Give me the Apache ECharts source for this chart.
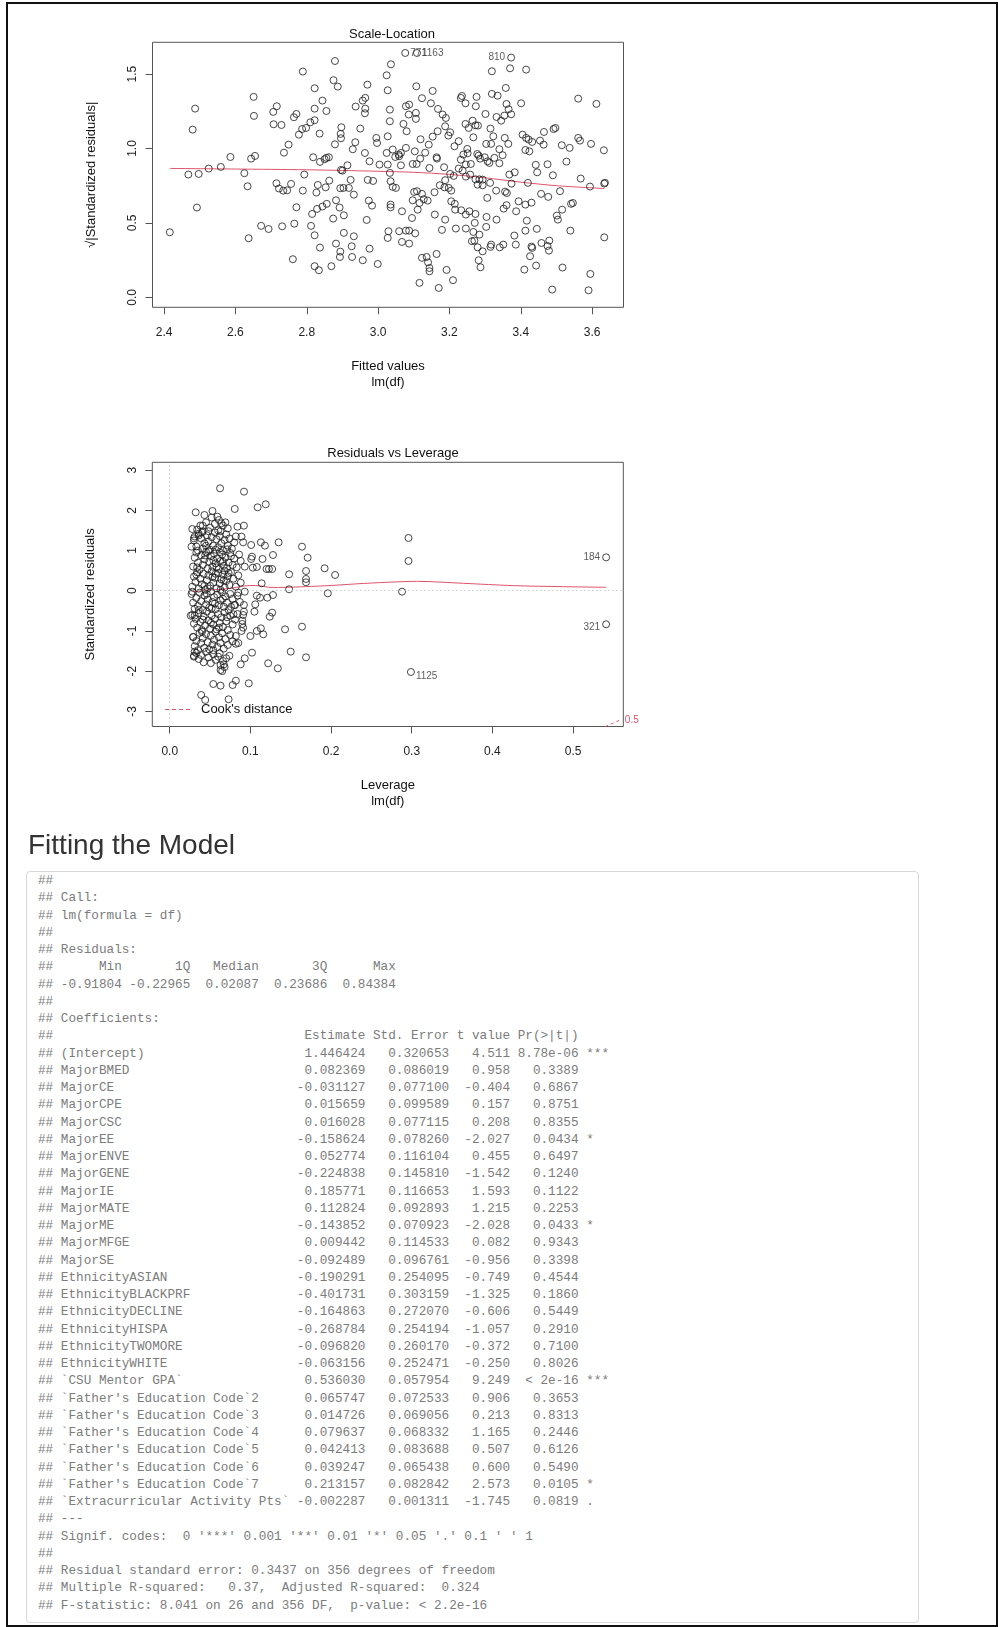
<!DOCTYPE html>
<html>
<head>
<meta charset="utf-8">
<script src="https://cdn.jsdelivr.net/npm/echarts@6/dist/echarts.min.js"></script>
<style>
  html, body { margin: 0; padding: 0; background: #fff; }
  body { width: 998px; height: 1627px; position: relative; overflow: hidden; }
  #chart { position: absolute; left: 0; top: 0; width: 998px; height: 830px; }
  #frame { position: absolute; left: 6px; top: 2px; width: 992px; height: 1625px; box-sizing: border-box; border: 2px solid #111; pointer-events: none; }
  #heading { position: absolute; left: 28px; top: 831px; margin: 0; font: 400 28px/28px "Liberation Sans", Arial, sans-serif; color: #333; }
  #code { position: absolute; left: 26px; top: 871px; width: 893px; height: 752px; box-sizing: border-box; margin: 0;
          border: 1px solid #d8d8d8; border-radius: 4px; background: #fff; padding: 0 0 0 11px;
          font: 12.7px/17.25px "Liberation Mono", "Courier New", monospace; color: #7c7c7c; white-space: pre; overflow: hidden; }
</style>
</head>
<body>
<div id="chart"></div>
<h2 id="heading">Fitting the Model</h2>
<pre id="code"></pre>
<div id="frame"></div>
<script>
// ---------------- Scale-Location data ----------------
const slTicksX = [2.4, 2.6, 2.8, 3.0, 3.2, 3.4, 3.6];
const slTicksY = [0.0, 0.5, 1.0, 1.5];
const slPoints = [
[2.416,0.437],[2.487,1.268],[2.480,1.127],[2.468,0.825],[2.497,0.829],[2.525,0.865],[2.559,0.876],[2.492,0.603],[2.586,0.943],[2.651,1.347],
[2.652,1.219],[2.644,0.932],[2.655,0.950],[2.625,0.834],[2.634,0.746],[2.637,0.397],[2.672,0.480],[2.693,0.459],[2.731,0.477],[2.706,1.246],
[2.716,1.284],[2.707,1.163],[2.729,1.158],[2.764,1.210],[2.771,1.232],[2.749,1.026],[2.736,0.972],[2.715,0.766],[2.722,0.731],[2.734,0.717],
[2.745,0.719],[2.756,0.762],[2.771,0.605],[2.765,0.495],[2.761,0.256],[2.789,1.517],[2.822,1.405],[2.822,1.268],[2.844,1.322],[2.855,1.252],
[2.778,1.093],[2.787,1.131],[2.798,1.138],[2.810,1.176],[2.822,1.190],[2.836,1.100],[2.818,0.941],[2.837,0.910],[2.850,0.928],[2.855,0.937],
[2.862,0.941],[2.793,0.825],[2.789,0.717],[2.831,0.755],[2.827,0.704],[2.863,0.784],[2.853,0.739],[2.815,0.560],[2.829,0.594],[2.844,0.610],
[2.856,0.628],[2.812,0.480],[2.822,0.417],[2.837,0.334],[2.822,0.209],[2.834,0.182],[2.869,0.209],[2.879,1.588],[2.875,1.459],[2.887,1.416],
[2.897,1.143],[2.895,1.098],[2.896,1.069],[2.879,1.028],[2.896,0.856],[2.900,0.851],[2.914,0.887],[2.894,0.733],[2.903,0.735],[2.918,0.735],
[2.882,0.652],[2.892,0.603],[2.904,0.551],[2.874,0.529],[2.904,0.433],[2.882,0.361],[2.894,0.307],[2.893,0.271],[2.926,0.343],[2.927,0.271],
[2.932,0.410],[2.957,0.249],[2.976,0.327],[2.999,0.224],[2.970,1.429],[2.957,1.322],[2.964,1.340],[2.964,1.268],[2.963,1.237],[2.937,1.282],
[2.950,1.134],[2.936,1.042],[2.929,0.995],[2.963,0.970],[2.976,0.914],[2.923,0.789],[2.932,0.690],[2.971,0.789],[2.986,0.782],[2.974,0.650],
[2.983,0.616],[2.968,0.520],[3.004,0.892],[2.995,1.071],[2.997,1.037],
[3.370,1.539],[3.319,1.519],[3.415,1.530],[3.036,1.566],[3.024,1.492],[3.027,1.391],[3.033,1.261],[3.033,1.183],[3.027,1.082],[3.024,0.970],
[3.027,0.892],[3.033,0.836],[3.035,0.780],[3.041,0.742],[3.050,0.735],[3.035,0.623],[3.035,0.605],[3.029,0.444],[3.027,0.399],[3.041,0.993],
[3.048,0.943],[3.058,0.959],[3.064,0.887],[3.071,1.165],[3.080,1.116],[3.078,1.284],[3.087,1.295],[3.086,1.228],[3.106,1.239],[3.106,1.199],
[3.107,1.418],[3.123,1.338],[3.148,1.304],[3.153,1.387],[3.168,1.266],[3.181,1.228],[3.190,1.205],[3.167,1.116],[3.153,1.080],[3.142,1.026],
[3.132,0.972],[3.119,1.062],[3.103,0.981],[3.078,1.004],[3.064,0.970],[3.059,0.948],[3.097,0.896],[3.108,0.896],[3.118,0.932],[3.144,0.869],
[3.164,0.941],[3.165,0.932],[3.185,0.874],[3.188,1.149],[3.202,1.109],[3.197,1.087],[3.214,1.015],[3.226,1.049],[3.232,0.925],[3.226,0.865],
[3.246,0.892],[3.251,0.968],[3.260,0.896],[3.250,0.997],[3.267,1.075],[3.273,1.156],[3.245,1.165],[3.254,1.138],[3.265,1.187],[3.280,1.154],
[3.235,1.353],[3.232,1.340],[3.245,1.304],[3.276,1.347],[3.274,1.284],[3.301,1.232],[3.319,1.367],[3.335,1.355],[3.358,1.407],[3.360,1.299],
[3.366,1.264],[3.373,1.230],[3.354,1.221],[3.345,1.187],[3.332,1.212],[3.315,1.134],[3.323,1.082],[3.303,1.031],[3.317,1.031],[3.340,0.995],
[3.355,1.071],[3.365,1.031],[3.349,0.955],[3.340,0.901],[3.326,0.937],[3.307,0.914],[3.299,0.941],[3.282,0.952],[3.278,0.963],[3.286,0.932],
[3.312,0.903],[3.401,1.304],[3.405,1.093],[3.415,1.071],[3.422,1.060],[3.432,1.044],[3.413,0.990],[3.424,0.981],[3.454,1.053],[3.465,1.111],
[3.464,1.026],[3.492,1.131],[3.497,1.138],[3.515,1.022],[3.537,1.004],[3.561,1.335],[3.612,1.300],[3.561,1.071],[3.566,1.053],[3.597,1.031],
[3.633,0.988],[3.528,0.912],[3.475,0.894],[3.442,0.890],[3.446,0.840],[3.490,0.820],[3.420,0.769],[3.383,0.840],[3.368,0.825],[3.374,0.764],
[3.356,0.710],[3.361,0.701],[3.331,0.717],[3.314,0.769],[3.293,0.791],[3.284,0.793],[3.273,0.793],[3.258,0.825],[3.246,0.811],[3.237,0.851],
[3.212,0.816],[3.202,0.829],[3.188,0.787],[3.173,0.753],[3.186,0.739],[3.198,0.735],[3.205,0.717],[3.158,0.706],[3.139,0.650],[3.123,0.695],
[3.116,0.634],[3.128,0.659],[3.109,0.713],[3.101,0.708],[3.097,0.652],[3.067,0.578],[3.095,0.533],[3.111,0.589],[3.159,0.556],[3.188,0.522],
[3.205,0.645],[3.215,0.628],[3.216,0.589],[3.233,0.585],[3.246,0.556],[3.256,0.578],[3.273,0.560],[3.271,0.500],[3.279,0.757],[3.293,0.753],
[3.306,0.668],[3.304,0.540],[3.303,0.473],[3.332,0.522],[3.352,0.596],[3.360,0.619],[3.387,0.578],[3.394,0.645],[3.413,0.623],[3.430,0.636],
[3.457,0.695],[3.477,0.675],[3.510,0.713],[3.541,0.628],[3.546,0.634],[3.516,0.589],[3.501,0.549],[3.504,0.522],[3.417,0.515],[3.413,0.448],
[3.445,0.460],[3.382,0.415],[3.386,0.354],[3.430,0.341],[3.432,0.332],[3.426,0.276],[3.458,0.365],[3.480,0.381],[3.475,0.345],[3.479,0.314],
[3.443,0.213],[3.410,0.186],[3.517,0.200],[3.539,0.448],[3.568,0.798],[3.594,0.744],[3.634,0.764],[3.636,0.770],[3.634,0.403],[3.595,0.157],
[3.590,0.047],[3.488,0.052],[3.351,0.354],[3.341,0.336],[3.317,0.354],[3.315,0.339],[3.284,0.421],[3.267,0.439],[3.270,0.381],[3.263,0.377],
[3.279,0.336],[3.293,0.309],[3.282,0.249],[3.287,0.202],[3.246,0.462],[3.218,0.462],[3.179,0.453],[3.104,0.430],[3.087,0.448],[3.078,0.448],
[3.059,0.444],[3.067,0.372],[3.087,0.361],[3.123,0.265],[3.136,0.271],[3.140,0.235],[3.144,0.197],[3.144,0.175],[3.164,0.291],[3.192,0.184],
[3.210,0.115],[3.170,0.063],[3.116,0.097],[3.239,0.959]
];
const slIdFitted = [3.076, 3.109, 3.373];
const slIdValue  = [1.642, 1.642, 1.611];
const slIdNames  = ['771', '1163', '810'];
const slIdSide   = ['right', 'right', 'left'];
const slSmooth = [[2.416,0.866],[2.6,0.862],[2.8,0.857],[3.0,0.847],[3.1,0.840],[3.2,0.826],[3.3,0.803],[3.4,0.774],[3.5,0.750],[3.634,0.731]];

// ---------------- Residuals vs Leverage data ----------------
const rlTicksX = [0.0, 0.1, 0.2, 0.3, 0.4, 0.5];
const rlTicksY = [-3, -2, -1, 0, 1, 2, 3];
const rlPoints = [
[0.0624,2.547],[0.0921,2.464],[0.0806,2.033],[0.109,2.074],[0.119,2.149],[0.0322,1.950],[0.043,1.883],[0.053,1.983],[0.059,1.842],[0.061,1.759],
[0.064,1.676],[0.084,1.593],[0.092,1.618],[0.089,1.345],[0.091,1.204],[0.101,1.137],[0.113,1.204],[0.118,1.121],[0.135,1.204],[0.164,1.096],
[0.171,0.822],[0.128,0.888],[0.115,0.789],[0.102,0.847],[0.101,0.789],[0.093,0.598],[0.103,0.573],[0.108,0.590],[0.120,0.540],[0.123,0.540],
[0.127,0.540],[0.148,0.408],[0.169,0.490],[0.169,0.292],[0.169,0.209],[0.192,0.557],[0.205,0.391],[0.148,0.035],[0.196,-0.065],[0.114,0.184],
[0.093,-0.024],[0.085,-0.049],[0.108,-0.123],[0.112,-0.173],[0.121,-0.173],[0.128,-0.107],[0.106,-0.339],[0.105,-0.522],[0.092,-0.355],[0.092,-0.522],
[0.091,-0.604],[0.090,-0.745],[0.090,-0.828],[0.091,-0.919],[0.089,-1.002],[0.079,-0.587],[0.080,-0.355],[0.127,-0.546],[0.124,-0.646],[0.113,-0.936],
[0.116,-1.085],[0.108,-1.002],[0.100,-1.127],[0.143,-0.961],[0.164,-0.894],[0.150,-1.516],[0.169,-1.657],[0.134,-1.931],[0.122,-1.806],[0.102,-1.541],
[0.093,-1.682],[0.088,-1.831],[0.085,-1.301],[0.082,-1.127],[0.098,-2.304],[0.082,-2.238],[0.078,-2.346],[0.063,-2.362],[0.054,-2.321],[0.039,-2.594],
[0.044,-2.718],[0.073,-2.702],[0.063,-1.972],[0.067,-1.831],[0.030,-1.641],[0.031,-1.516],[0.029,-1.152],[0.026,-0.621],[0.028,-0.024],[0.027,1.096],
[0.030,1.303],[0.028,1.535],[0.036,1.378],[0.041,1.618],[0.296,1.311],[0.296,0.739],[0.288,-0.024],
[0.034,1.52],[0.038,1.62],[0.045,1.70],[0.050,1.57],[0.056,1.66],[0.060,1.50],[0.066,1.62],[0.072,1.55],[0.040,1.45],[0.048,1.48],[0.069,1.70],[0.031,1.35],[0.052,1.82],
[0.030,1.25],[0.033,1.10],[0.036,1.42],[0.039,1.30],[0.041,1.05],[0.043,1.18],[0.046,1.38],[0.048,1.22],[0.050,1.02],[0.052,1.33],[0.054,1.12],[0.056,1.45],[0.058,1.28],
[0.060,1.08],[0.062,1.36],[0.064,1.18],[0.066,1.00],[0.068,1.26],[0.070,1.40],[0.072,1.12],[0.074,1.30],[0.077,1.05],[0.080,1.20],[0.082,1.35],[0.035,1.00],[0.045,1.12],
[0.057,1.02],[0.063,1.48],[0.071,1.03],[0.041,1.48],
[0.029,0.60],[0.031,0.82],[0.033,0.95],[0.035,0.70],[0.037,0.52],[0.039,0.88],[0.041,0.64],[0.043,0.78],[0.045,0.96],[0.047,0.55],[0.049,0.72],[0.051,0.86],[0.053,0.60],
[0.055,0.92],[0.057,0.68],[0.059,0.80],[0.061,0.54],[0.063,0.74],[0.065,0.90],[0.067,0.62],[0.069,0.82],[0.071,0.56],[0.073,0.70],[0.075,0.94],[0.078,0.64],[0.080,0.80],
[0.083,0.58],[0.086,0.90],[0.088,0.74],[0.034,0.58],[0.044,0.88],[0.054,0.76],[0.062,0.96],[0.068,0.50],[0.076,0.86],[0.058,0.58],[0.048,0.98],[0.066,0.72],
[0.028,0.10],[0.030,0.35],[0.032,0.22],[0.034,0.46],[0.036,0.05],[0.038,0.30],[0.040,0.16],[0.042,0.42],[0.044,0.02],[0.046,0.26],[0.048,0.38],[0.050,0.12],[0.052,0.48],
[0.054,0.20],[0.056,0.32],[0.058,0.06],[0.060,0.44],[0.062,0.18],[0.064,0.28],[0.066,0.40],[0.068,0.08],[0.070,0.24],[0.072,0.36],[0.074,0.14],[0.076,0.46],[0.079,0.30],
[0.082,0.10],[0.085,0.38],[0.088,0.20],[0.033,0.40],[0.043,0.12],[0.053,0.34],[0.063,0.02],[0.073,0.44],[0.047,0.06],[0.057,0.42],[0.067,0.26],
[0.027,-0.08],[0.029,-0.30],[0.031,-0.45],[0.033,-0.18],[0.035,-0.38],[0.037,-0.05],[0.039,-0.26],[0.041,-0.48],[0.043,-0.12],[0.045,-0.34],[0.047,-0.22],[0.049,-0.42],
[0.051,-0.02],[0.053,-0.28],[0.055,-0.16],[0.057,-0.46],[0.059,-0.10],[0.061,-0.36],[0.063,-0.24],[0.065,-0.04],[0.067,-0.40],[0.069,-0.14],[0.071,-0.30],[0.073,-0.48],
[0.075,-0.08],[0.078,-0.20],[0.081,-0.36],[0.084,-0.12],[0.087,-0.28],[0.036,-0.48],[0.046,-0.08],[0.056,-0.32],[0.066,-0.20],[0.076,-0.40],[0.052,-0.44],
[0.028,-0.60],[0.030,-0.82],[0.032,-0.70],[0.034,-0.92],[0.036,-0.56],[0.038,-0.78],[0.040,-0.98],[0.042,-0.64],[0.044,-0.86],[0.046,-0.52],[0.048,-0.74],[0.050,-0.94],
[0.052,-0.62],[0.054,-0.84],[0.056,-0.70],[0.058,-0.96],[0.060,-0.58],[0.062,-0.80],[0.064,-0.66],[0.066,-0.90],[0.068,-0.54],[0.070,-0.76],[0.072,-0.98],[0.075,-0.62],
[0.078,-0.84],[0.081,-0.72],[0.084,-0.58],[0.031,-0.62],[0.041,-0.72],[0.051,-0.80],[0.061,-0.92],[0.071,-0.66],
[0.029,-1.15],[0.031,-1.38],[0.033,-1.25],[0.035,-1.48],[0.037,-1.05],[0.039,-1.30],[0.041,-1.18],[0.043,-1.42],[0.045,-1.08],[0.047,-1.28],[0.049,-1.46],[0.051,-1.12],
[0.053,-1.34],[0.055,-1.22],[0.057,-1.02],[0.059,-1.40],[0.061,-1.16],[0.063,-1.30],[0.065,-1.06],[0.067,-1.44],[0.069,-1.20],[0.072,-1.35],[0.075,-1.10],[0.078,-1.26],
[0.082,-1.32],[0.040,-1.02],[0.054,-1.48],
[0.030,-1.62],[0.033,-1.55],[0.036,-1.70],[0.039,-1.60],[0.042,-1.78],[0.045,-1.52],[0.048,-1.66],[0.051,-1.80],[0.054,-1.58],[0.057,-1.72],[0.060,-1.64],[0.063,-1.85],
[0.066,-1.75],[0.065,-2.00],[0.062,-1.56],[0.070,-1.68],[0.074,-1.62],[0.068,-1.90]
];
const rlIdLeverage = [0.541, 0.541, 0.299];
const rlIdResidual = [0.830, -0.836, -2.022];
const rlIdNames    = ['184', '321', '1125'];
const rlIdSide     = ['left', 'left', 'right'];
const rlSmooth = [[0.027,-0.02],[0.052,0.02],[0.077,0.06],[0.093,0.12],[0.106,0.13],[0.127,0.08],[0.143,0.085],[0.168,0.10],[0.200,0.13],[0.240,0.18],[0.282,0.22],[0.306,0.233],[0.364,0.184],[0.426,0.126],[0.488,0.10],[0.541,0.085]];
const cookHalf = [[0.540,-3.38],[0.549,-3.30],[0.558,-3.22]];

// ---------------- model summary text ----------------
const coefNames = ['(Intercept)','MajorBMED','MajorCE','MajorCPE','MajorCSC','MajorEE','MajorENVE','MajorGENE','MajorIE','MajorMATE','MajorME','MajorMFGE','MajorSE',
  'EthnicityASIAN','EthnicityBLACKPRF','EthnicityDECLINE','EthnicityHISPA','EthnicityTWOMORE','EthnicityWHITE','`CSU Mentor GPA`',
  "`Father's Education Code`2","`Father's Education Code`3","`Father's Education Code`4","`Father's Education Code`5","`Father's Education Code`6","`Father's Education Code`7",
  '`Extracurricular Activity Pts`'];
const coefEstimate = ['1.446424','0.082369','-0.031127','0.015659','0.016028','-0.158624','0.052774','-0.224838','0.185771','0.112824','-0.143852','0.009442','-0.092489',
  '-0.190291','-0.401731','-0.164863','-0.268784','-0.096820','-0.063156','0.536030','0.065747','0.014726','0.079637','0.042413','0.039247','0.213157','-0.002287'];
const coefStdErr = ['0.320653','0.086019','0.077100','0.099589','0.077115','0.078260','0.116104','0.145810','0.116653','0.092893','0.070923','0.114533','0.096761',
  '0.254095','0.303159','0.272070','0.254194','0.260170','0.252471','0.057954','0.072533','0.069056','0.068332','0.083688','0.065438','0.082842','0.001311'];
const coefT = ['4.511','0.958','-0.404','0.157','0.208','-2.027','0.455','-1.542','1.593','1.215','-2.028','0.082','-0.956',
  '-0.749','-1.325','-0.606','-1.057','-0.372','-0.250','9.249','0.906','0.213','1.165','0.507','0.600','2.573','-1.745'];
const coefP = ['8.78e-06','0.3389','0.6867','0.8751','0.8355','0.0434','0.6497','0.1240','0.1122','0.2253','0.0433','0.9343','0.3398',
  '0.4544','0.1860','0.5449','0.2910','0.7100','0.8026','< 2e-16','0.3653','0.8313','0.2446','0.6126','0.5490','0.0105','0.0819'];
const coefStars = ['***','','','','','*','','','','','*','','','','','','','','','***','','','','','','*','.'];

const lines = [
  '##', '## Call:', '## lm(formula = df)', '##', '## Residuals:',
  '##      Min       1Q   Median       3Q      Max',
  '## -0.91804 -0.22965  0.02087  0.23686  0.84384',
  '##', '## Coefficients:',
  '## ' + ''.padEnd(30) + ' ' + 'Estimate'.padStart(9) + ' ' + 'Std. Error'.padStart(10) + ' ' + 't value'.padStart(7) + ' ' + 'Pr(>|t|)'.padStart(8)
];
coefNames.forEach((n, i) => {
  lines.push('## ' + n.padEnd(30) + ' ' + coefEstimate[i].padStart(9) + ' ' + coefStdErr[i].padStart(10) + ' ' +
             coefT[i].padStart(7) + ' ' + coefP[i].padStart(8) + ' ' + coefStars[i]);
});
lines.push('## ---');
lines.push("## Signif. codes:  0 '***' 0.001 '**' 0.01 '*' 0.05 '.' 0.1 ' ' 1");
lines.push('##');
lines.push('## Residual standard error: 0.3437 on 356 degrees of freedom');
lines.push('## Multiple R-squared:   0.37,  Adjusted R-squared:  0.324');
lines.push('## F-statistic: 8.041 on 26 and 356 DF,  p-value: < 2.2e-16');
document.getElementById('code').textContent = lines.join('\n');

// ---------------- chart ----------------
const FONT = '"Liberation Sans", Arial, sans-serif';
const POINT_STYLE = { color: 'rgba(0,0,0,0)', borderColor: '#1a1a1a', borderWidth: 1 };
const RED = '#df536b';

function idData(xs, ys, names, sides) {
  return xs.map((x, i) => ({
    value: [x, ys[i]], name: names[i],
    label: { show: true, position: sides[i], distance: sides[i] === 'left' ? 2 : 1, formatter: names[i],
             fontSize: 10, color: '#333', fontFamily: FONT,
             offset: names[i] === '321' ? [0, 3] : (names[i] === '1125' ? [0, 4] : [0, 0]) }
  }));
}

function xAxisCfg(gridIndex, min, max, ticks, name, fmt) {
  return {
    type: 'value', gridIndex, min, max, position: 'bottom',
    axisLine: { show: false, onZero: false },
    splitLine: { show: false },
    axisTick: { show: true, inside: false, length: 7, lineStyle: { color: '#555', width: 1 }, customValues: ticks },
    axisLabel: { show: true, customValues: ticks, formatter: fmt, margin: 19, fontSize: 12, color: '#222', fontFamily: FONT },
    name, nameLocation: 'middle', nameGap: 51,
    nameTextStyle: { fontSize: 13, lineHeight: 16, color: '#111', fontFamily: FONT }
  };
}
function yAxisCfg(gridIndex, min, max, ticks, name, fmt) {
  return {
    type: 'value', gridIndex, min, max, position: 'left',
    axisLine: { show: false, onZero: false },
    splitLine: { show: false },
    axisTick: { show: true, inside: false, length: 7, lineStyle: { color: '#555', width: 1 }, customValues: ticks },
    axisLabel: { show: true, customValues: ticks, formatter: fmt, rotate: 90, margin: 14, fontSize: 12, color: '#222', fontFamily: FONT },
    name, nameLocation: 'middle', nameGap: 55, nameRotate: 90,
    nameTextStyle: { fontSize: 13, color: '#111', fontFamily: FONT }
  };
}

const cookIcon = 'path://M0,0h4v1h-4z M7,0h4v1h-4z M14,0h4v1h-4z M21,0h4v1h-4z';

const chart = echarts.init(document.getElementById('chart'), null, { renderer: 'canvas' });
chart.setOption({
  animation: false,
  backgroundColor: 'rgba(0,0,0,0)',
  title: [
    { text: 'Scale-Location', left: 387, top: 23, textAlign: 'center',
      textStyle: { fontSize: 13, fontWeight: 'normal', color: '#111', fontFamily: FONT } },
    { text: 'Residuals vs Leverage', left: 388, top: 442, textAlign: 'center',
      textStyle: { fontSize: 13, fontWeight: 'normal', color: '#111', fontFamily: FONT } }
  ],
  legend: {
    left: 165, top: 703, padding: 0, itemWidth: 25, itemHeight: 1.2,
    data: [{ name: "Cook's distance", icon: cookIcon, itemStyle: { color: RED } }],
    textStyle: { fontSize: 13, color: '#111', fontFamily: FONT, padding: [0, 0, 0, 6] }
  },
  grid: [
    { left: 152.5, top: 42.3, width: 471, height: 265, show: true, borderColor: '#555', borderWidth: 1, backgroundColor: 'rgba(0,0,0,0)' },
    { left: 152.3, top: 462.3, width: 471, height: 264.2, show: true, borderColor: '#555', borderWidth: 1, backgroundColor: 'rgba(0,0,0,0)' }
  ],
  xAxis: [
    xAxisCfg(0, 2.3675, 3.688, slTicksX, 'Fitted values\nlm(df)', v => v.toFixed(1)),
    xAxisCfg(1, -0.0216, 0.5623, rlTicksX, 'Leverage\nlm(df)', v => v.toFixed(1))
  ],
  yAxis: [
    yAxisCfg(0, -0.0672, 1.7137, slTicksY, '√|Standardized residuals|', v => v.toFixed(1)),
    yAxisCfg(1, -3.378, 3.194, rlTicksY, 'Standardized residuals', v => String(Math.round(v)))
  ],
  series: [
    { type: 'scatter', xAxisIndex: 0, yAxisIndex: 0, symbol: 'circle', symbolSize: 7, itemStyle: POINT_STYLE, data: slPoints, silent: true },
    { type: 'scatter', xAxisIndex: 0, yAxisIndex: 0, symbol: 'circle', symbolSize: 7, itemStyle: POINT_STYLE,
      data: idData(slIdFitted, slIdValue, slIdNames, slIdSide), silent: true, z: 3 },
    { type: 'line', xAxisIndex: 0, yAxisIndex: 0, data: slSmooth, smooth: 0.3, symbol: 'none',
      lineStyle: { color: RED, width: 1 }, silent: true, z: 1 },

    { type: 'scatter', xAxisIndex: 1, yAxisIndex: 1, symbol: 'circle', symbolSize: 7, itemStyle: POINT_STYLE, data: rlPoints, silent: true,
      markLine: { silent: true, symbol: ['none', 'none'], label: { show: false },
                  lineStyle: { type: [1, 3], color: '#b5b5b5', width: 1 },
                  data: [{ yAxis: 0 }, { xAxis: 0 }] } },
    { type: 'scatter', xAxisIndex: 1, yAxisIndex: 1, symbol: 'circle', symbolSize: 7, itemStyle: POINT_STYLE,
      data: idData(rlIdLeverage, rlIdResidual, rlIdNames, rlIdSide), silent: true, z: 3 },
    { type: 'line', xAxisIndex: 1, yAxisIndex: 1, data: rlSmooth, smooth: 0.3, symbol: 'none',
      lineStyle: { color: RED, width: 1 }, silent: true, z: 1 },
    { type: 'line', name: "Cook's distance", xAxisIndex: 1, yAxisIndex: 1, data: cookHalf, smooth: true, symbol: 'none', clip: false,
      lineStyle: { color: RED, width: 1, type: [3, 3] }, itemStyle: { color: RED }, silent: true,
      endLabel: { show: true, formatter: '0.5', color: RED, fontSize: 10, fontFamily: FONT, distance: 5 } }
  ]
});
</script>
</body>
</html>
